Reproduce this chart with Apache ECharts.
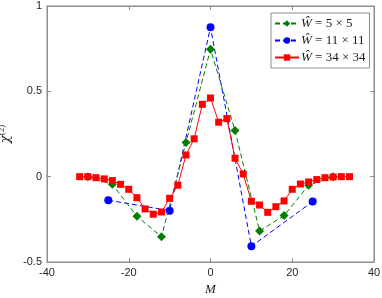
<!DOCTYPE html>
<html><head><meta charset="utf-8">
<script src="https://cdn.jsdelivr.net/npm/echarts@6/dist/echarts.min.js"></script>
<style>html,body{margin:0;padding:0;background:#fff}#c{width:382px;height:298px}</style>
</head><body><div id="c"></div>
<script>
var greenX = [-30, -24, -18, -12, -6, 0, 6, 12, 18, 24, 30];
var greenY = [0.0, -0.045, -0.232, -0.352, 0.2, 0.746, 0.27, -0.318, -0.228, -0.05, 0.0];
var blueX = [-25, -10, 0, 10, 25];
var blueY = [-0.138, -0.199, 0.875, -0.408, -0.146];
var redX = [-32, -30, -28, -26, -24, -22, -20, -18, -16, -14, -12, -10, -8, -6, -4, -2, 0, 2, 4, 6, 8, 10, 12, 14, 16, 18, 20, 22, 24, 26, 28, 30, 32, 34];
var redY = [0.0, 0.0, -0.006, -0.013, -0.023, -0.045, -0.074, -0.123, -0.189, -0.22, -0.207, -0.127, -0.05, 0.127, 0.222, 0.424, 0.461, 0.319, 0.34, 0.108, 0.016, -0.144, -0.166, -0.209, -0.176, -0.142, -0.074, -0.043, -0.031, -0.017, -0.006, -0.002, 0.0, 0.0];
var seriesNames = ['{w|Ŵ} = 5 × 5', '{w|Ŵ} = 11 × 11', '{w|Ŵ} = 34 × 34'];

function pairs(xs, ys) { return xs.map(function (x, i) { return [x, ys[i]]; }); }

var chart = echarts.init(document.getElementById('c'), null, {renderer: 'canvas'});
var axisCol = '#8c8c8c';
var lab = {color: '#262626', fontFamily: 'Liberation Sans, Arial, sans-serif', fontSize: 11};
chart.setOption({
  animation: false,
  grid: {left: 47, right: 8, top: 6, bottom: 36, show: true, borderColor: axisCol, borderWidth: 1,
         containLabel: false, outerBoundsMode: 'none'},
  xAxis: [{
    type: 'value', min: -40, max: 40, interval: 20,
    axisLine: {show: true, onZero: false, lineStyle: {color: axisCol}},
    axisTick: {inside: true, length: 4, lineStyle: {color: axisCol}},
    splitLine: {show: false},
    axisLabel: Object.assign({margin: 5}, lab),
    name: 'M', nameLocation: 'middle', nameGap: 21,
    nameTextStyle: {fontFamily: 'Liberation Serif, DejaVu Serif, serif', fontStyle: 'italic', fontSize: 13, color: '#262626'}
  }, {
    type: 'value', min: -40, max: 40, interval: 20, position: 'top',
    axisLine: {show: true, onZero: false, lineStyle: {color: axisCol}},
    axisTick: {inside: true, length: 4, lineStyle: {color: axisCol}},
    axisLabel: {show: false}, splitLine: {show: false}
  }],
  yAxis: [{
    type: 'value', min: -0.5, max: 1, interval: 0.5,
    axisLine: {show: true, onZero: false, lineStyle: {color: axisCol}},
    axisTick: {inside: true, length: 4, lineStyle: {color: axisCol}},
    splitLine: {show: false},
    axisLabel: Object.assign({margin: 5, formatter: function (v) { return String(v); }}, lab),
    name: '{c|χ}{s|(2)}', nameLocation: 'middle', nameGap: 30, nameRotate: 90,
    nameTextStyle: {
      color: '#262626',
      rich: {
        c: {fontFamily: 'DejaVu Serif, serif', fontStyle: 'italic', fontSize: 13, color: '#262626'},
        s: {fontFamily: 'Liberation Serif, serif', fontSize: 9, color: '#262626', verticalAlign: 'top', padding: [0, 0, 8, 0]}
      }
    }
  }, {
    type: 'value', min: -0.5, max: 1, interval: 0.5, position: 'right',
    axisLine: {show: true, onZero: false, lineStyle: {color: axisCol}},
    axisTick: {inside: true, length: 4, lineStyle: {color: axisCol}},
    axisLabel: {show: false}, splitLine: {show: false}
  }],
  legend: {
    left: 271, top: 13, orient: 'vertical',
    backgroundColor: '#fff', borderColor: '#8c8c8c', borderWidth: 1,
    padding: [4, 4, 4, 3], itemGap: 4, itemWidth: 24, itemHeight: 8,
    textStyle: {
      fontFamily: 'Liberation Serif, DejaVu Serif, serif', fontSize: 13, color: '#1a1a1a', padding: [0, 0, 0, -3],
      rich: {w: {fontFamily: 'Liberation Serif, DejaVu Serif, serif', fontStyle: 'italic', fontSize: 13, color: '#1a1a1a'}}
    },
    data: seriesNames
  },
  series: [{
    name: seriesNames[0], type: 'line', data: pairs(greenX, greenY),
    symbol: 'diamond', symbolSize: 9, color: '#008000',
    lineStyle: {type: [5, 3], width: 1, color: '#008000'}, itemStyle: {color: '#008000'}, z: 3
  }, {
    name: seriesNames[1], type: 'line', data: pairs(blueX, blueY),
    symbol: 'circle', symbolSize: 8, color: '#0000ff',
    lineStyle: {type: [5, 3], width: 1, color: '#0000ff'}, itemStyle: {color: '#0000ff'}, z: 2
  }, {
    name: seriesNames[2], type: 'line', data: pairs(redX, redY),
    symbol: 'rect', symbolSize: 7, color: '#ff0000',
    lineStyle: {type: 'solid', width: 1, color: '#ff0000'}, itemStyle: {color: '#ff0000'}, z: 4
  }]
});
</script></body></html>
